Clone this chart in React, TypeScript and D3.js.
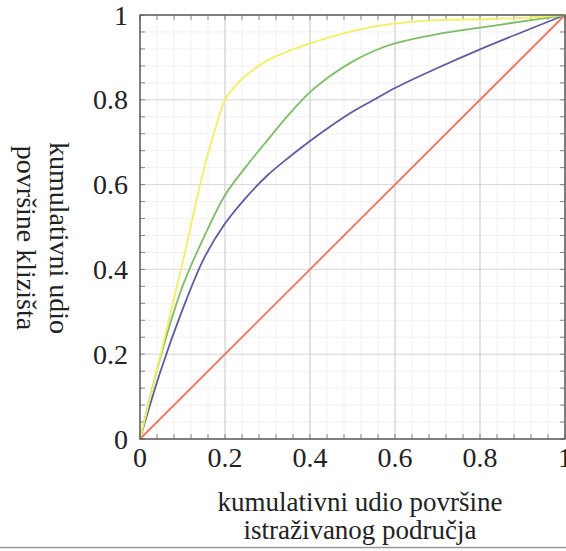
import * as d3 from "d3";

const yellowXs = [0, 0.05, 0.1, 0.15, 0.175, 0.2, 0.225, 0.25, 0.3, 0.4, 0.5, 0.6, 0.7, 0.8, 0.9, 1];
const yellowVals = [0, 0.205, 0.415, 0.635, 0.725, 0.8, 0.834, 0.858, 0.893, 0.933, 0.962, 0.98, 0.988, 0.99, 0.993, 1];
const xs = [0, 0.05, 0.1, 0.15, 0.2, 0.25, 0.3, 0.35, 0.4, 0.45, 0.5, 0.55, 0.6, 0.7, 0.8, 0.9, 1];
const greenVals = [0, 0.2, 0.36, 0.475, 0.575, 0.643, 0.705, 0.765, 0.818, 0.858, 0.89, 0.915, 0.933, 0.955, 0.97, 0.985, 1];
const purpleVals = [0, 0.165, 0.305, 0.425, 0.508, 0.57, 0.622, 0.664, 0.703, 0.739, 0.772, 0.8, 0.828, 0.875, 0.919, 0.96, 1];
const redXs = [0, 1];
const redVals = [0, 1];

const tickValues = [0, 0.2, 0.4, 0.6, 0.8, 1];
const tickLabels = ["0", "0.2", "0.4", "0.6", "0.8", "1"];
const xTitle = ["kumulativni udio površine", "istraživanog područja"];
const yTitle = ["kumulativni udio", "površine klizišta"];

const width = 566;
const height = 551;
const margin = { top: 15, right: 1, bottom: 112, left: 140 };
const font = '"Liberation Serif"';

export default function App() {
  const x = d3.scaleLinear().domain([0, 1]).range([margin.left, width - margin.right]);
  const y = d3.scaleLinear().domain([0, 1]).range([height - margin.bottom, margin.top]);
  const minor = d3.range(0, 1.0001, 0.04);

  const line = d3
    .line<[number, number]>()
    .x((d) => x(d[0]))
    .y((d) => y(d[1]))
    .curve(d3.curveCatmullRom.alpha(0.5));

  const series = [
    { xv: redXs, yv: redVals, color: "#ef7361" },
    { xv: xs, yv: purpleVals, color: "#5d5c9e" },
    { xv: xs, yv: greenVals, color: "#7dbd66" },
    { xv: yellowXs, yv: yellowVals, color: "#f3ee62" },
  ];

  const textStyle = { fontFamily: font, fontSize: "28px" };

  return (
    <svg
      width={width}
      height={height}
      style={{ position: "absolute", left: 0, top: 0, background: "#fff" }}
    >
      {/* minor grid */}
      {minor.map((v) => (
        <g key={"mg" + v}>
          <line x1={x(v)} x2={x(v)} y1={y(0)} y2={y(1)} stroke="#ededed" strokeWidth={0.8} />
          <line x1={x(0)} x2={x(1)} y1={y(v)} y2={y(v)} stroke="#ededed" strokeWidth={0.8} />
        </g>
      ))}
      {/* major grid */}
      {tickValues.map((v) => (
        <g key={"Mg" + v}>
          <line x1={x(v)} x2={x(v)} y1={y(0)} y2={y(1)} stroke="#cdcdcd" strokeWidth={1} />
          <line x1={x(0)} x2={x(1)} y1={y(v)} y2={y(v)} stroke="#dadada" strokeWidth={1} />
        </g>
      ))}
      {/* ticks inside the frame */}
      <g stroke="#777" strokeWidth={0.9}>
        {minor.map((v) => (
          <g key={"t" + v}>
            <line x1={x(v)} x2={x(v)} y1={y(0)} y2={y(0) - 5} />
            <line x1={x(v)} x2={x(v)} y1={y(1)} y2={y(1) + 5} />
            <line x1={x(0)} x2={x(0) + 5} y1={y(v)} y2={y(v)} />
            <line x1={x(1)} x2={x(1) - 5} y1={y(v)} y2={y(v)} />
          </g>
        ))}
      </g>
      {series.map((s) => (
        <path
          key={s.color}
          d={line(s.xv.map((v, i) => [v, s.yv[i]] as [number, number])) || ""}
          fill="none"
          stroke={s.color}
          strokeWidth={1.8}
        />
      ))}
      {/* frame */}
      <rect
        x={x(0)}
        y={y(1)}
        width={x(1) - x(0)}
        height={y(0) - y(1)}
        fill="none"
        stroke="#555"
        strokeWidth={1.4}
      />
      {/* tick labels */}
      {tickValues.map((v, i) => (
        <g key={"l" + v}>
          <text x={x(v)} y={467} textAnchor="middle" fill="#222" style={textStyle}>
            {tickLabels[i]}
          </text>
          <text x={128} y={y(v) + 9.5} textAnchor="end" fill="#222" style={textStyle}>
            {tickLabels[i]}
          </text>
        </g>
      ))}
      {/* x title */}
      {xTitle.map((t, i) => (
        <text
          key={t}
          x={360}
          y={511 + i * 28}
          textAnchor="middle"
          fill="#222"
          style={{ fontFamily: font, fontSize: "27px" }}
        >
          {t}
        </text>
      ))}
      {/* y title, reading top to bottom */}
      {yTitle.map((t, i) => (
        <text
          key={t}
          transform={`translate(${50 - i * 33}, 238) rotate(90)`}
          textAnchor="middle"
          fill="#222"
          style={{ fontFamily: font, fontSize: "28px" }}
        >
          {t}
        </text>
      ))}
      {/* page edge line at bottom */}
      <line x1={0} x2={width} y1={547.5} y2={547.5} stroke="#999" strokeWidth={1.5} />
    </svg>
  );
}
